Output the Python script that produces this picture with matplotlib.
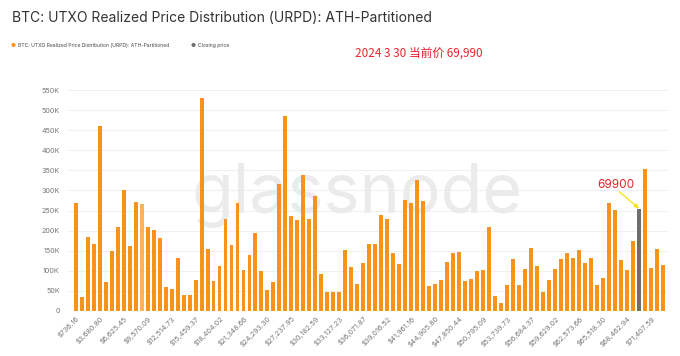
import matplotlib
matplotlib.use("Agg")
import matplotlib.pyplot as plt

plt.rcParams['font.family'] = ['Inter', 'DejaVu Sans']

values_k = [270, 33, 184, 166, 460, 72, 148, 210, 300, 162,
            271, 267, 210, 201, 181, 59, 54, 131, 39, 39,
            76, 531, 153, 73, 111, 230, 163, 270, 102, 138,
            194, 99, 52, 72, 316, 487, 236, 227, 339, 230,
            285, 92, 47, 47, 47, 151, 108, 66, 120, 166,
            166, 240, 229, 144, 117, 276, 268, 326, 275, 62,
            66, 76, 122, 143, 146, 73, 78, 100, 101, 210,
            36, 19, 65, 129, 64, 104, 156, 111, 46, 77,
            104, 128, 145, 131, 151, 120, 131, 65, 82, 270,
            251, 126, 101, 174, 255, 353, 106, 153, 113]
highlight_index = 11
closing_index = 94

tick_labels = ["$736.16", "$3,680.80", "$6,625.45", "$9,570.09", "$12,514.73",
               "$15,459.37", "$18,404.02", "$21,348.66", "$24,293.30", "$27,237.95",
               "$30,182.59", "$33,127.23", "$36,071.87", "$39,016.52", "$41,961.16",
               "$44,905.80", "$47,850.44", "$50,795.09", "$53,739.73", "$56,684.37",
               "$59,629.02", "$62,573.66", "$65,518.30", "$68,462.94", "$71,407.59"]
tick_step = 4

y_ticks_k = [0, 50, 100, 150, 200, 250, 300, 350, 400, 450, 500, 550]

ORANGE = "#f7931a"
LIGHT = "#f9b25f"
GRAY = "#6e6e6e"

fig = plt.figure(figsize=(6.8, 3.56), dpi=100)
fig.patch.set_facecolor("white")
ax = fig.add_axes([68/680, 1-310.7/356, 600/680, (310.7-90.3)/356])

n = len(values_k)
xs = list(range(n))
colors = []
for i in xs:
    if i == closing_index:
        colors.append(GRAY)
    elif i == highlight_index:
        colors.append(LIGHT)
    else:
        colors.append(ORANGE)
ax.bar(xs, [v*1000 for v in values_k], width=0.66, color=colors, zorder=3)

ax.set_xlim(-1.28, n - 1 + 0.83)
ax.set_ylim(0, 550000)
ax.set_yticks([v*1000 for v in y_ticks_k])
ax.set_yticklabels(["0" if v == 0 else f"{v}K" for v in y_ticks_k])
ax.yaxis.grid(True, color="#f0f0f0", linewidth=0.8, zorder=0)
ax.set_axisbelow(True)
ax.set_xticks(xs[::tick_step])
ax.set_xticklabels(tick_labels, rotation=45, ha="right", rotation_mode="anchor")
ax.tick_params(axis="both", length=0, labelsize=5.2, colors="#777777")
ax.tick_params(axis="y", pad=6)
ax.tick_params(axis="x", pad=3)
for s in ax.spines.values():
    s.set_visible(False)

# watermark (behind bars)
ax.text(357/680, 1-213/356, "glassnode", fontsize=49, color="#ebebeb",
        ha="center", va="baseline", transform=fig.transFigure, zorder=1)

# title
fig.text(12/680, 1-18/356, "BTC: UTXO Realized Price Distribution (URPD): ATH-Partitioned",
         fontsize=10, color="#333333", ha="left", va="center")

# legend
fig.text(13/680, 1-45/356, "●", fontsize=4, color=ORANGE, ha="center", va="center")
fig.text(18/680, 1-45/356, "BTC: UTXO Realized Price Distribution (URPD): ATH-Partitioned",
         fontsize=3.6, color="#444444", ha="left", va="center")
fig.text(193/680, 1-45/356, "●", fontsize=4, color=GRAY, ha="center", va="center")
fig.text(198/680, 1-45/356, "Closing price", fontsize=3.6, color="#444444",
         ha="left", va="center")

# red note
fig.text(419/680, 1-53/356, "2024 3 30 当前价 69,990", fontsize=8.5, color="#e8242b",
         ha="center", va="center", family=['Noto Sans CJK SC', 'DejaVu Sans'])

# annotation
ax.text(closing_index - 3.95, 313000, "69900", fontsize=8.5, color="#e8242b",
        ha="center", va="center", zorder=5)
ax.annotate("", xy=(closing_index, values_k[closing_index]*1000),
            xytext=(closing_index - 3.3, 297000),
            arrowprops=dict(arrowstyle="-|>", color="#f5e61a", lw=1.0,
                            shrinkA=0, shrinkB=0, mutation_scale=6), zorder=5)

fig.savefig("out.png", dpi=100, facecolor="white")
